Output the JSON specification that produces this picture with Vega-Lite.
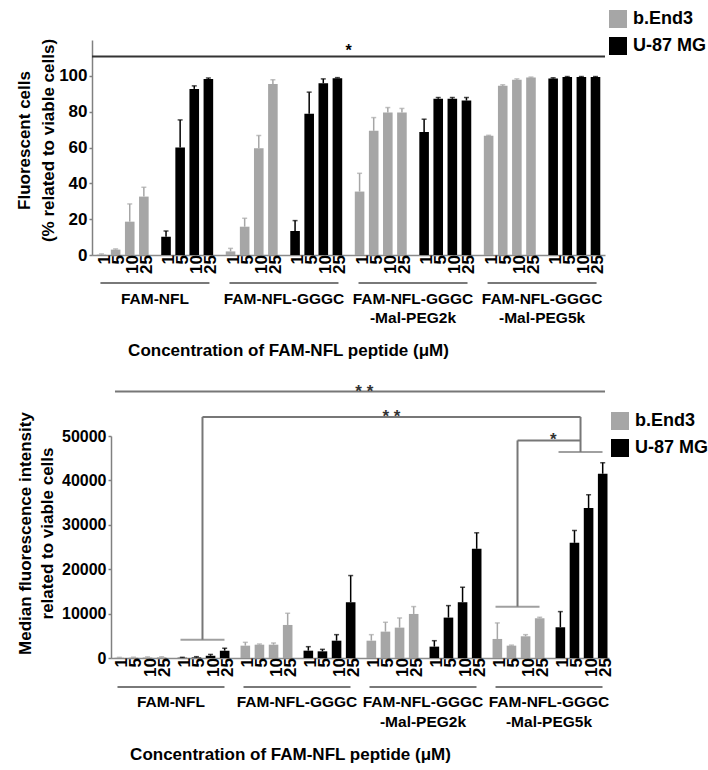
{
  "$schema": "https://vega.github.io/schema/vega-lite/v6.json",
  "background": "white",
  "padding": {"left": 15, "top": 10, "right": 0, "bottom": 0},
  "spacing": 23,
  "config": {
    "view": {"stroke": null},
    "font": "Liberation Sans",
    "axis": {"labelColor": "black", "titleColor": "black", "labelFont": "Liberation Sans", "titleFont": "Liberation Sans", "labelFontWeight": "bold", "titleFontWeight": "bold", "grid": false, "domainColor": "#808080", "tickColor": "#808080", "domainWidth": 1.5, "tickWidth": 1.5},
    "legend": {"title": null, "symbolType": "square", "symbolSize": 324, "symbolStrokeWidth": 0, "labelFontSize": 18, "labelFontWeight": "bold", "labelFont": "Liberation Sans", "labelColor": "black", "rowPadding": 9, "labelOffset": 6, "orient": "none"}
  },
  "datasets": {
    "pct": [
      {"group": "FAM-NFL", "cell": "b.End3", "conc": 1, "value": 0.2, "upper": 0.6},
      {"group": "FAM-NFL", "cell": "b.End3", "conc": 5, "value": 3.0, "upper": 3.4},
      {"group": "FAM-NFL", "cell": "b.End3", "conc": 10, "value": 18.6, "upper": 28.5},
      {"group": "FAM-NFL", "cell": "b.End3", "conc": 25, "value": 32.6, "upper": 37.8},
      {"group": "FAM-NFL", "cell": "U-87 MG", "conc": 1, "value": 10.2, "upper": 13.4},
      {"group": "FAM-NFL", "cell": "U-87 MG", "conc": 5, "value": 60.0, "upper": 75.4},
      {"group": "FAM-NFL", "cell": "U-87 MG", "conc": 10, "value": 92.7, "upper": 94.4},
      {"group": "FAM-NFL", "cell": "U-87 MG", "conc": 25, "value": 98.3, "upper": 98.8},
      {"group": "FAM-NFL-GGGC", "cell": "b.End3", "conc": 1, "value": 2.0, "upper": 3.7},
      {"group": "FAM-NFL-GGGC", "cell": "b.End3", "conc": 5, "value": 15.8, "upper": 20.5},
      {"group": "FAM-NFL-GGGC", "cell": "b.End3", "conc": 10, "value": 59.6, "upper": 66.7},
      {"group": "FAM-NFL-GGGC", "cell": "b.End3", "conc": 25, "value": 95.5, "upper": 97.8},
      {"group": "FAM-NFL-GGGC", "cell": "U-87 MG", "conc": 1, "value": 13.4, "upper": 19.2},
      {"group": "FAM-NFL-GGGC", "cell": "U-87 MG", "conc": 5, "value": 78.8, "upper": 90.9},
      {"group": "FAM-NFL-GGGC", "cell": "U-87 MG", "conc": 10, "value": 95.9, "upper": 98.3},
      {"group": "FAM-NFL-GGGC", "cell": "U-87 MG", "conc": 25, "value": 98.7, "upper": 99.0},
      {"group": "FAM-NFL-GGGC-Mal-PEG2k", "cell": "b.End3", "conc": 1, "value": 35.4, "upper": 45.6},
      {"group": "FAM-NFL-GGGC-Mal-PEG2k", "cell": "b.End3", "conc": 5, "value": 69.3, "upper": 76.7},
      {"group": "FAM-NFL-GGGC-Mal-PEG2k", "cell": "b.End3", "conc": 10, "value": 79.5, "upper": 82.3},
      {"group": "FAM-NFL-GGGC-Mal-PEG2k", "cell": "b.End3", "conc": 25, "value": 79.5, "upper": 81.8},
      {"group": "FAM-NFL-GGGC-Mal-PEG2k", "cell": "U-87 MG", "conc": 1, "value": 68.7, "upper": 75.8},
      {"group": "FAM-NFL-GGGC-Mal-PEG2k", "cell": "U-87 MG", "conc": 5, "value": 87.2, "upper": 87.9},
      {"group": "FAM-NFL-GGGC-Mal-PEG2k", "cell": "U-87 MG", "conc": 10, "value": 87.2, "upper": 87.9},
      {"group": "FAM-NFL-GGGC-Mal-PEG2k", "cell": "U-87 MG", "conc": 25, "value": 86.2, "upper": 87.9},
      {"group": "FAM-NFL-GGGC-Mal-PEG5k", "cell": "b.End3", "conc": 1, "value": 66.5, "upper": 66.8},
      {"group": "FAM-NFL-GGGC-Mal-PEG5k", "cell": "b.End3", "conc": 5, "value": 94.4, "upper": 95.0},
      {"group": "FAM-NFL-GGGC-Mal-PEG5k", "cell": "b.End3", "conc": 10, "value": 97.8, "upper": 98.3},
      {"group": "FAM-NFL-GGGC-Mal-PEG5k", "cell": "b.End3", "conc": 25, "value": 99.1, "upper": 99.3},
      {"group": "FAM-NFL-GGGC-Mal-PEG5k", "cell": "U-87 MG", "conc": 1, "value": 98.5, "upper": 98.9},
      {"group": "FAM-NFL-GGGC-Mal-PEG5k", "cell": "U-87 MG", "conc": 5, "value": 99.3, "upper": 99.6},
      {"group": "FAM-NFL-GGGC-Mal-PEG5k", "cell": "U-87 MG", "conc": 10, "value": 99.3, "upper": 99.6},
      {"group": "FAM-NFL-GGGC-Mal-PEG5k", "cell": "U-87 MG", "conc": 25, "value": 99.3, "upper": 99.6}
    ],
    "mfi": [
      {"group": "FAM-NFL", "cell": "b.End3", "conc": 1, "value": 60, "upper": 150},
      {"group": "FAM-NFL", "cell": "b.End3", "conc": 5, "value": 80, "upper": 180},
      {"group": "FAM-NFL", "cell": "b.End3", "conc": 10, "value": 120, "upper": 250},
      {"group": "FAM-NFL", "cell": "b.End3", "conc": 25, "value": 150, "upper": 280},
      {"group": "FAM-NFL", "cell": "U-87 MG", "conc": 1, "value": 60, "upper": 150},
      {"group": "FAM-NFL", "cell": "U-87 MG", "conc": 5, "value": 120, "upper": 300},
      {"group": "FAM-NFL", "cell": "U-87 MG", "conc": 10, "value": 500, "upper": 800},
      {"group": "FAM-NFL", "cell": "U-87 MG", "conc": 25, "value": 1650, "upper": 2200},
      {"group": "FAM-NFL-GGGC", "cell": "b.End3", "conc": 1, "value": 2780, "upper": 3530},
      {"group": "FAM-NFL-GGGC", "cell": "b.End3", "conc": 5, "value": 3000, "upper": 3150},
      {"group": "FAM-NFL-GGGC", "cell": "b.End3", "conc": 10, "value": 3000, "upper": 3380},
      {"group": "FAM-NFL-GGGC", "cell": "b.End3", "conc": 25, "value": 7440, "upper": 10075},
      {"group": "FAM-NFL-GGGC", "cell": "U-87 MG", "conc": 1, "value": 1650, "upper": 2550},
      {"group": "FAM-NFL-GGGC", "cell": "U-87 MG", "conc": 5, "value": 1500, "upper": 1950},
      {"group": "FAM-NFL-GGGC", "cell": "U-87 MG", "conc": 10, "value": 3900, "upper": 5260},
      {"group": "FAM-NFL-GGGC", "cell": "U-87 MG", "conc": 25, "value": 12560, "upper": 18570},
      {"group": "FAM-NFL-GGGC-Mal-PEG2k", "cell": "b.End3", "conc": 1, "value": 3900, "upper": 5260},
      {"group": "FAM-NFL-GGGC-Mal-PEG2k", "cell": "b.End3", "conc": 5, "value": 5940, "upper": 8045},
      {"group": "FAM-NFL-GGGC-Mal-PEG2k", "cell": "b.End3", "conc": 10, "value": 6840, "upper": 9020},
      {"group": "FAM-NFL-GGGC-Mal-PEG2k", "cell": "b.End3", "conc": 25, "value": 9920, "upper": 11580},
      {"group": "FAM-NFL-GGGC-Mal-PEG2k", "cell": "U-87 MG", "conc": 1, "value": 2560, "upper": 3900},
      {"group": "FAM-NFL-GGGC-Mal-PEG2k", "cell": "U-87 MG", "conc": 5, "value": 9100, "upper": 11800},
      {"group": "FAM-NFL-GGGC-Mal-PEG2k", "cell": "U-87 MG", "conc": 10, "value": 12560, "upper": 15940},
      {"group": "FAM-NFL-GGGC-Mal-PEG2k", "cell": "U-87 MG", "conc": 25, "value": 24590, "upper": 28200},
      {"group": "FAM-NFL-GGGC-Mal-PEG5k", "cell": "b.End3", "conc": 1, "value": 4290, "upper": 7900},
      {"group": "FAM-NFL-GGGC-Mal-PEG5k", "cell": "b.End3", "conc": 5, "value": 2780, "upper": 2900},
      {"group": "FAM-NFL-GGGC-Mal-PEG5k", "cell": "b.End3", "conc": 10, "value": 4890, "upper": 5260},
      {"group": "FAM-NFL-GGGC-Mal-PEG5k", "cell": "b.End3", "conc": 25, "value": 8950, "upper": 9170},
      {"group": "FAM-NFL-GGGC-Mal-PEG5k", "cell": "U-87 MG", "conc": 1, "value": 6920, "upper": 10450},
      {"group": "FAM-NFL-GGGC-Mal-PEG5k", "cell": "U-87 MG", "conc": 5, "value": 25940, "upper": 28720},
      {"group": "FAM-NFL-GGGC-Mal-PEG5k", "cell": "U-87 MG", "conc": 10, "value": 33760, "upper": 36770},
      {"group": "FAM-NFL-GGGC-Mal-PEG5k", "cell": "U-87 MG", "conc": 25, "value": 41500, "upper": 44000}
    ],
    "groups": [
      {"group": "FAM-NFL"},
      {"group": "FAM-NFL-GGGC"},
      {"group": "FAM-NFL-GGGC-Mal-PEG2k"},
      {"group": "FAM-NFL-GGGC-Mal-PEG5k"}
    ],
    "brackets": [
      {"kind": "h", "from": "FAM-NFL|U-87 MG", "to": "FAM-NFL-GGGC-Mal-PEG5k|U-87 MG", "y": 54300},
      {"kind": "h", "from": "FAM-NFL-GGGC-Mal-PEG5k|b.End3", "to": "FAM-NFL-GGGC-Mal-PEG5k|U-87 MG", "y": 49000},
      {"kind": "top", "from": "FAM-NFL|b.End3", "to": "FAM-NFL-GGGC-Mal-PEG5k|U-87 MG", "y": 60000},
      {"kind": "v", "from": "FAM-NFL|U-87 MG", "y": 4130, "y2": 54300},
      {"kind": "v", "from": "FAM-NFL-GGGC-Mal-PEG5k|U-87 MG", "y": 46400, "y2": 54300},
      {"kind": "v", "from": "FAM-NFL-GGGC-Mal-PEG5k|b.End3", "y": 11570, "y2": 49000},
      {"kind": "base", "from": "FAM-NFL|U-87 MG", "y": 4130},
      {"kind": "base", "from": "FAM-NFL-GGGC-Mal-PEG5k|b.End3", "y": 11570},
      {"kind": "base", "from": "FAM-NFL-GGGC-Mal-PEG5k|U-87 MG", "y": 46400},
      {"kind": "labmid", "from": "FAM-NFL-GGGC-Mal-PEG2k|b.End3", "y": 54300, "label": "* *"},
      {"kind": "labstart", "from": "FAM-NFL-GGGC-Mal-PEG5k|U-87 MG", "y": 49000, "label": "*"},
      {"kind": "labtop", "from": "FAM-NFL-GGGC-Mal-PEG2k|b.End3", "y": 60000, "label": "* *"}
    ]
  },
  "resolve": {"scale": {"color": "independent"}, "legend": {"color": "independent"}},
  "vconcat": [
    {
      "width": 513,
      "height": 215,
      "resolve": {"scale": {"x": "independent"}},
      "layer": [
        {
          "layer": [
            {
              "data": {"name": "pct"},
              "transform": [{"calculate": "datum.group + '|' + datum.cell", "as": "sub"}],
              "mark": {"type": "bar"},
              "encoding": {
                "x": {"field": "sub", "type": "nominal", "scale": {"domain": ["FAM-NFL|b.End3", "FAM-NFL|U-87 MG", "FAM-NFL-GGGC|b.End3", "FAM-NFL-GGGC|U-87 MG", "FAM-NFL-GGGC-Mal-PEG2k|b.End3", "FAM-NFL-GGGC-Mal-PEG2k|U-87 MG", "FAM-NFL-GGGC-Mal-PEG5k|b.End3", "FAM-NFL-GGGC-Mal-PEG5k|U-87 MG"], "paddingInner": 0.125, "paddingOuter": 0.038}, "axis": {"labels": false, "ticks": false, "title": null, "domainColor": "#8a8a8a"}},
                "xOffset": {"field": "conc", "type": "ordinal", "scale": {"paddingInner": 0.32, "paddingOuter": 0.16}},
                "y": {"field": "value", "type": "quantitative", "scale": {"domain": [0, 120], "nice": false}, "axis": {"values": [0, 10, 20, 30, 40, 50, 60, 70, 80, 90, 100, 110], "labelExpr": "datum.value % 20 == 0 && datum.value <= 100 ? datum.label : ''", "title": ["Fluorescent cells", "(% related to viable cells)"], "titleFontSize": 17, "titleLineHeight": 24, "titlePadding": 1, "titleY": 100, "labelFontSize": 17, "tickSize": 3, "labelPadding": 2}},
                "color": {"field": "cell", "type": "nominal", "scale": {"domain": ["b.End3", "U-87 MG"], "range": ["#a6a6a6", "#000000"]}, "legend": {"legendX": 517, "legendY": -30}}
              }
            },
            {
              "data": {"name": "pct"},
              "transform": [{"calculate": "datum.group + '|' + datum.cell", "as": "sub"}],
              "mark": {"type": "rule", "strokeWidth": 1.5},
              "encoding": {
                "x": {"field": "sub", "type": "nominal"},
                "xOffset": {"field": "conc", "type": "ordinal"},
                "y": {"field": "value", "type": "quantitative"},
                "y2": {"field": "upper"},
                "stroke": {"field": "cell", "type": "nominal", "scale": {"domain": ["b.End3", "U-87 MG"], "range": ["#a6a6a6", "#000000"]}, "legend": null}
              }
            },
            {
              "data": {"name": "pct"},
              "transform": [{"calculate": "datum.group + '|' + datum.cell", "as": "sub"}],
              "mark": {"type": "tick", "thickness": 1.5, "size": 5},
              "encoding": {
                "x": {"field": "sub", "type": "nominal"},
                "xOffset": {"field": "conc", "type": "ordinal"},
                "y": {"field": "upper", "type": "quantitative"},
                "fill": {"field": "cell", "type": "nominal", "scale": {"domain": ["b.End3", "U-87 MG"], "range": ["#a6a6a6", "#000000"]}, "legend": null}
              }
            },
            {
              "data": {"name": "pct"},
              "transform": [{"calculate": "datum.group + '|' + datum.cell", "as": "sub"}],
              "mark": {"type": "text", "angle": 270, "align": "right", "baseline": "middle", "dy": 3, "fontSize": 17, "fontWeight": "bold", "color": "black"},
              "encoding": {
                "x": {"field": "sub", "type": "nominal"},
                "xOffset": {"field": "conc", "type": "ordinal"},
                "y": {"datum": 0, "type": "quantitative"},
                "text": {"field": "conc"}
              }
            },
            {
              "data": {"values": [{"y": 110.8, "label": "*"}]},
              "mark": {"type": "rule", "strokeWidth": 2, "color": "#333333"},
              "encoding": {"y": {"field": "y", "type": "quantitative"}}
            },
            {
              "data": {"values": [{"y": 110.8, "label": "*"}]},
              "mark": {"type": "text", "fontSize": 16, "fontWeight": "bold", "baseline": "alphabetic", "dy": 0, "color": "black"},
              "encoding": {"y": {"field": "y", "type": "quantitative"}, "text": {"field": "label"}}
            }
          ]
        },
        {
          "data": {"name": "groups"},
          "mark": {"type": "tick", "thickness": 1.5, "size": 109, "yOffset": 28, "color": "black"},
          "encoding": {
            "x": {"field": "group", "type": "nominal", "scale": {"domain": ["FAM-NFL", "FAM-NFL-GGGC", "FAM-NFL-GGGC-Mal-PEG2k", "FAM-NFL-GGGC-Mal-PEG5k"], "paddingInner": 0.0625, "paddingOuter": 0.019}, "axis": {"orient": "bottom", "domain": false, "ticks": false, "tickSize": 0, "labelAngle": 0, "labelPadding": 36, "labelFontSize": 15.5, "labelLineHeight": 19, "labelExpr": "indexof(datum.label, '-Mal') > 0 ? [slice(datum.label, 0, 12), slice(datum.label, 12)] : datum.label", "title": "Concentration of FAM-NFL peptide (μM)", "titleFontSize": 17, "titlePadding": 17, "titleX": 196}},
            "y": {"datum": 0, "type": "quantitative"}
          }
        }
      ]
    },
    {
      "width": 517,
      "height": 222,
      "resolve": {"scale": {"x": "independent"}},
      "layer": [
        {
          "layer": [
            {
              "data": {"name": "mfi"},
              "transform": [{"calculate": "datum.group + '|' + datum.cell", "as": "sub"}],
              "mark": {"type": "bar"},
              "encoding": {
                "x": {"field": "sub", "type": "nominal", "scale": {"domain": ["FAM-NFL|b.End3", "FAM-NFL|U-87 MG", "FAM-NFL-GGGC|b.End3", "FAM-NFL-GGGC|U-87 MG", "FAM-NFL-GGGC-Mal-PEG2k|b.End3", "FAM-NFL-GGGC-Mal-PEG2k|U-87 MG", "FAM-NFL-GGGC-Mal-PEG5k|b.End3", "FAM-NFL-GGGC-Mal-PEG5k|U-87 MG"], "range": [19, 517], "paddingInner": 0.136, "paddingOuter": 0.02}, "axis": {"labels": false, "ticks": false, "title": null, "domainColor": "#8a8a8a"}},
                "xOffset": {"field": "conc", "type": "ordinal", "scale": {"paddingInner": 0.33, "paddingOuter": 0.165}},
                "y": {"field": "value", "type": "quantitative", "scale": {"domain": [0, 50000], "nice": false}, "axis": {"offset": -19, "values": [0, 5000, 10000, 15000, 20000, 25000, 30000, 35000, 40000, 45000, 50000], "format": "d", "labelExpr": "datum.value % 10000 == 0 ? datum.label : ''", "title": ["Median fluorescence intensity", "related to viable cells"], "titleFontSize": 17, "titleLineHeight": 22, "titlePadding": 5, "titleY": 97, "labelFontSize": 16, "tickSize": 3, "labelPadding": 2}},
                "color": {"field": "cell", "type": "nominal", "scale": {"domain": ["b.End3", "U-87 MG"], "range": ["#a6a6a6", "#000000"]}, "legend": {"legendX": 519, "legendY": -24}}
              }
            },
            {
              "data": {"name": "mfi"},
              "transform": [{"calculate": "datum.group + '|' + datum.cell", "as": "sub"}],
              "mark": {"type": "rule", "strokeWidth": 1.5},
              "encoding": {
                "x": {"field": "sub", "type": "nominal"},
                "xOffset": {"field": "conc", "type": "ordinal"},
                "y": {"field": "value", "type": "quantitative"},
                "y2": {"field": "upper"},
                "stroke": {"field": "cell", "type": "nominal", "scale": {"domain": ["b.End3", "U-87 MG"], "range": ["#a6a6a6", "#000000"]}, "legend": null}
              }
            },
            {
              "data": {"name": "mfi"},
              "transform": [{"calculate": "datum.group + '|' + datum.cell", "as": "sub"}],
              "mark": {"type": "tick", "thickness": 1.5, "size": 5},
              "encoding": {
                "x": {"field": "sub", "type": "nominal"},
                "xOffset": {"field": "conc", "type": "ordinal"},
                "y": {"field": "upper", "type": "quantitative"},
                "fill": {"field": "cell", "type": "nominal", "scale": {"domain": ["b.End3", "U-87 MG"], "range": ["#a6a6a6", "#000000"]}, "legend": null}
              }
            },
            {
              "data": {"name": "mfi"},
              "transform": [{"calculate": "datum.group + '|' + datum.cell", "as": "sub"}],
              "mark": {"type": "text", "angle": 270, "align": "right", "baseline": "middle", "dy": 3, "fontSize": 17, "fontWeight": "bold", "color": "black"},
              "encoding": {
                "x": {"field": "sub", "type": "nominal"},
                "xOffset": {"field": "conc", "type": "ordinal"},
                "y": {"datum": 0, "type": "quantitative"},
                "text": {"field": "conc"}
              }
            },
            {
              "data": {"name": "brackets"},
              "transform": [{"filter": "datum.kind == 'h'"}],
              "mark": {"type": "rule", "strokeWidth": 2, "color": "#777777"},
              "encoding": {
                "x": {"field": "from", "type": "nominal", "bandPosition": 0.5},
                "x2": {"field": "to", "bandPosition": 0.5},
                "y": {"field": "y", "type": "quantitative"}
              }
            },
            {
              "data": {"name": "brackets"},
              "transform": [{"filter": "datum.kind == 'top'"}],
              "mark": {"type": "rule", "strokeWidth": 2, "color": "#777777"},
              "encoding": {
                "x": {"field": "from", "type": "nominal", "bandPosition": 0.05},
                "x2": {"field": "to", "bandPosition": 0.95},
                "y": {"field": "y", "type": "quantitative"}
              }
            },
            {
              "data": {"name": "brackets"},
              "transform": [{"filter": "datum.kind == 'v'"}],
              "mark": {"type": "rule", "strokeWidth": 2, "color": "#777777"},
              "encoding": {
                "x": {"field": "from", "type": "nominal", "bandPosition": 0.5},
                "y": {"field": "y", "type": "quantitative"},
                "y2": {"field": "y2"}
              }
            },
            {
              "data": {"name": "brackets"},
              "transform": [{"filter": "datum.kind == 'base'"}],
              "mark": {"type": "tick", "thickness": 2, "size": 44, "color": "#777777"},
              "encoding": {
                "x": {"field": "from", "type": "nominal"},
                "y": {"field": "y", "type": "quantitative"}
              }
            },
            {
              "data": {"name": "brackets"},
              "transform": [{"filter": "datum.kind == 'labmid'"}],
              "mark": {"type": "text", "fontSize": 17, "fontWeight": "bold", "baseline": "alphabetic", "dy": 5, "color": "#333333"},
              "encoding": {
                "x": {"field": "from", "type": "nominal", "bandPosition": 0.5},
                "y": {"field": "y", "type": "quantitative"},
                "text": {"field": "label"}
              }
            },
            {
              "data": {"name": "brackets"},
              "transform": [{"filter": "datum.kind == 'labstart' || datum.kind == 'labtop'"}],
              "mark": {"type": "text", "fontSize": 17, "fontWeight": "bold", "baseline": "alphabetic", "dy": 5, "color": "#333333"},
              "encoding": {
                "x": {"field": "from", "type": "nominal", "bandPosition": 0},
                "y": {"field": "y", "type": "quantitative"},
                "text": {"field": "label"}
              }
            }
          ]
        },
        {
          "data": {"name": "groups"},
          "mark": {"type": "tick", "thickness": 1.5, "size": 107, "yOffset": 29, "color": "black"},
          "encoding": {
            "x": {"field": "group", "type": "nominal", "scale": {"domain": ["FAM-NFL", "FAM-NFL-GGGC", "FAM-NFL-GGGC-Mal-PEG2k", "FAM-NFL-GGGC-Mal-PEG5k"], "range": [19, 517], "paddingInner": 0.068, "paddingOuter": 0.01}, "axis": {"orient": "bottom", "domain": false, "ticks": false, "tickSize": 0, "labelAngle": 0, "labelPadding": 36, "labelFontSize": 15.5, "labelLineHeight": 20, "labelExpr": "indexof(datum.label, '-Mal') > 0 ? [slice(datum.label, 0, 12), slice(datum.label, 12)] : datum.label", "title": "Concentration of FAM-NFL peptide (μM)", "titleFontSize": 17, "titlePadding": 17, "titleX": 198}},
            "y": {"datum": 0, "type": "quantitative"}
          }
        }
      ]
    }
  ]
}
